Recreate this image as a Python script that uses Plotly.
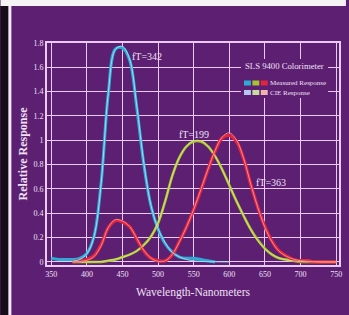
import plotly.graph_objects as go

# ---------------- data ----------------
wl_blue = list(range(350, 590, 10))
blue_measured = [0.03, 0.02, 0.02, 0.02, 0.03, 0.07, 0.21, 0.65, 1.38, 1.75, 1.76, 1.66,
                 1.27, 0.80, 0.46, 0.27, 0.15, 0.08, 0.04, 0.03, 0.03, 0.02, 0.01, 0.0]

wl = list(range(380, 760, 10))
red_measured = [0.0, 0.01, 0.02, 0.05, 0.14, 0.28, 0.34, 0.33, 0.29, 0.19, 0.09, 0.03, 0.01, 0.01,
                0.06, 0.17, 0.29, 0.43, 0.59, 0.76, 0.91, 1.02, 1.04, 0.99, 0.85, 0.64, 0.45, 0.29,
                0.17, 0.09, 0.05, 0.02, 0.01, 0.01, 0.0, 0.0, 0.0, 0.0]
green_measured = [0.0, 0.0, 0.0, 0.0, 0.0, 0.01, 0.02, 0.04, 0.06, 0.09, 0.14, 0.21, 0.32, 0.50,
                  0.71, 0.86, 0.95, 0.99, 0.99, 0.95, 0.87, 0.76, 0.63, 0.50, 0.38, 0.27, 0.18,
                  0.11, 0.06, 0.03, 0.02, 0.01, 0.0, 0.0, 0.0, 0.0, 0.0, 0.0]

cie_x = [0.001, 0.004, 0.014, 0.044, 0.134, 0.284, 0.348, 0.336, 0.291, 0.195, 0.096, 0.032,
         0.005, 0.009, 0.063, 0.166, 0.290, 0.433, 0.595, 0.762, 0.916, 1.026, 1.062, 1.003,
         0.854, 0.642, 0.448, 0.284, 0.165, 0.087, 0.047, 0.023, 0.011, 0.006, 0.003, 0.001,
         0.001, 0.0]
cie_y = [0.0, 0.0, 0.0, 0.001, 0.004, 0.012, 0.023, 0.038, 0.060, 0.091, 0.139, 0.208, 0.323,
         0.503, 0.710, 0.862, 0.954, 0.995, 0.995, 0.952, 0.870, 0.757, 0.631, 0.503, 0.381,
         0.265, 0.175, 0.107, 0.061, 0.032, 0.017, 0.008, 0.004, 0.002, 0.001, 0.0, 0.0, 0.0]
wl_cie_z = list(range(380, 610, 10))
cie_z = [0.007, 0.020, 0.068, 0.207, 0.646, 1.386, 1.747, 1.772, 1.669, 1.288, 0.813, 0.465,
         0.272, 0.158, 0.078, 0.042, 0.020, 0.009, 0.004, 0.002, 0.002, 0.001, 0.001]

x_ticks = [350, 400, 450, 500, 550, 600, 650, 700, 750]
y_ticks = [0, 0.2, 0.4, 0.6, 0.8, 1.0, 1.2, 1.4, 1.6, 1.8]
y_tick_text = ["0", "0.2", "0.4", "0.6", "0.8", "1", "1.2", "1.4", "1.6", "1.8"]

peak_labels = ["fT=342", "fT=199", "fT=363"]
peak_label_x = [485, 550, 659]
peak_label_y = [1.69, 1.05, 0.65]

# ---------------- style ----------------
BG = "#5c1f72"
GRID = "#e8cbef"
TXT = "#f0e0f4"
FONT = "Liberation Serif"

W, H = 349, 315
ML, MR, MT, MB = 47, 7, 43, 50


def px(x):
    return (x - ML) / (W - ML - MR)


def py(y):
    return (H - MB - y) / (H - MT - MB)


fig = go.Figure()

# measured (thick) lines
fig.add_trace(go.Scatter(x=wl_blue, y=blue_measured, mode="lines", line=dict(color="#2eaad6", width=3, shape="spline"), hoverinfo="skip"))
fig.add_trace(go.Scatter(x=wl, y=green_measured, mode="lines", line=dict(color="#a8c42c", width=2.6, shape="spline"), hoverinfo="skip"))
fig.add_trace(go.Scatter(x=wl, y=red_measured, mode="lines", line=dict(color="#e2253c", width=3.4, shape="spline"), hoverinfo="skip"))
# CIE (thin light) lines
fig.add_trace(go.Scatter(x=wl_cie_z, y=cie_z, mode="lines", line=dict(color="#9fdcf0", width=1, shape="spline"), hoverinfo="skip"))
fig.add_trace(go.Scatter(x=wl, y=cie_y, mode="lines", line=dict(color="#d8e682", width=0.9, shape="spline"), hoverinfo="skip"))
fig.add_trace(go.Scatter(x=wl, y=cie_x, mode="lines", line=dict(color="#f08a96", width=1, shape="spline"), hoverinfo="skip"))

annotations = []
for t, xx, yy in zip(peak_labels, peak_label_x, peak_label_y):
    annotations.append(dict(x=xx, y=yy, xref="x", yref="y", text=t, showarrow=False,
                            font=dict(family=FONT, size=10, color=TXT)))

# legend block
annotations.append(dict(x=px(245), y=py(66), xref="paper", yref="paper", text="SLS 9400 Colorimeter",
                        showarrow=False, xanchor="left", yanchor="middle",
                        font=dict(family=FONT, size=8.7, color=TXT)))
annotations.append(dict(x=px(270), y=py(83), xref="paper", yref="paper", text="Measured Response",
                        showarrow=False, xanchor="left", yanchor="middle",
                        font=dict(family=FONT, size=7, color=TXT)))
annotations.append(dict(x=px(270), y=py(92.5), xref="paper", yref="paper", text="CIE Response",
                        showarrow=False, xanchor="left", yanchor="middle",
                        font=dict(family=FONT, size=7, color=TXT)))

shapes = [
    # outer photo edges
    dict(type="rect", xref="paper", yref="paper", x0=px(0), x1=px(8), y0=py(H), y1=py(0),
         fillcolor="#170c19", line_width=0, layer="below"),
    dict(type="rect", xref="paper", yref="paper", x0=px(8), x1=px(11), y0=py(H), y1=py(0),
         fillcolor="#f2ecf2", line_width=0, layer="below"),
    dict(type="rect", xref="paper", yref="paper", x0=px(0), x1=px(W), y0=py(6), y1=py(0),
         fillcolor="#f4f2f4", line_width=0, layer="below"),
    # legend background
    dict(type="rect", xref="paper", yref="paper", x0=px(243), x1=px(331), y0=py(98), y1=py(59),
         fillcolor=BG, line_width=0, layer="above"),
]
sq_row1 = ["#2eaad6", "#a8c42c", "#e2253c"]
sq_row2 = ["#b4c8f0", "#c6dc9c", "#f0b4ae"]
for i, (c1, c2) in enumerate(zip(sq_row1, sq_row2)):
    x0 = 246 + i * 8.5
    shapes.append(dict(type="rect", xref="paper", yref="paper", x0=px(x0), x1=px(x0 + 7),
                       y0=py(85.5), y1=py(80.5), fillcolor=c1, line_width=0, layer="above"))
    shapes.append(dict(type="rect", xref="paper", yref="paper", x0=px(x0), x1=px(x0 + 7),
                       y0=py(95), y1=py(90), fillcolor=c2, line_width=0, layer="above"))

fig.update_layout(
    width=W, height=H,
    margin=dict(l=ML, r=MR, t=MT, b=MB),
    paper_bgcolor=BG, plot_bgcolor=BG,
    showlegend=False,
    annotations=annotations,
    shapes=shapes,
    font=dict(family=FONT, color=TXT),
)
fig.update_xaxes(range=[344, 754], tickvals=x_ticks, ticktext=[str(v) for v in x_ticks],
                 showgrid=True, gridcolor=GRID, gridwidth=1.4, zeroline=False,
                 showline=True, linecolor=GRID, linewidth=2, mirror=True,
                 tickfont=dict(family=FONT, size=8, color=TXT), ticks="",
                 ticklabeloverflow="allow",
                 title=dict(text="Wavelength-Nanometers", font=dict(family=FONT, size=11.5, color=TXT), standoff=10))
fig.update_yaxes(range=[-0.025, 1.8], tickvals=y_ticks, ticktext=y_tick_text,
                 showgrid=True, gridcolor=GRID, gridwidth=1.4, zeroline=False,
                 showline=True, linecolor=GRID, linewidth=2, mirror=True,
                 tickfont=dict(family=FONT, size=8, color=TXT), ticks="",
                 title=dict(text="<b>Relative Response</b>", font=dict(family=FONT, size=12, color=TXT), standoff=3))

fig.write_html("out.html", config={"displayModeBar": False},
               post_script="document.body.style.margin='0';document.body.style.overflow='hidden';")
